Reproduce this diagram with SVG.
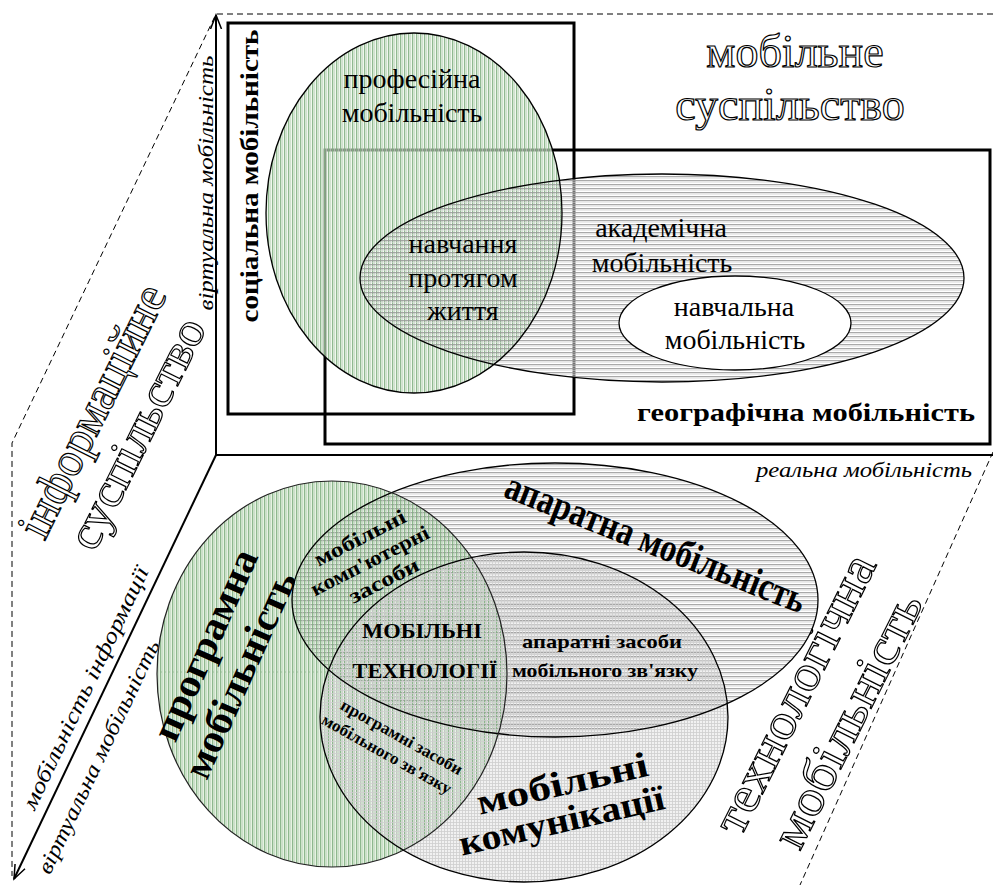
<svg xmlns="http://www.w3.org/2000/svg" width="993" height="885" viewBox="0 0 993 885" font-family="'Liberation Serif', 'Times New Roman', serif">
<defs>
<style>
text{font-family:"Liberation Serif","Times New Roman",serif;fill:#000}
.o{fill:#fff;stroke:#000;stroke-width:1.2}
.b{font-weight:bold}
.i{font-style:italic}
.m{text-anchor:middle}
.r28{font-size:28px}
.ln{fill:none;stroke:#000;stroke-width:1.3}
.ax{fill:none;stroke:#000;stroke-width:2}
.ds{fill:none;stroke:#000;stroke-width:1;stroke-dasharray:6,4}
</style>
<pattern id="pv" width="4" height="4" patternUnits="userSpaceOnUse"><rect width="1.3" height="4" fill="#7fae7f"/><rect x="2.3" width="0.7" height="4" fill="#b9d3b9"/></pattern>
<pattern id="ph" width="4" height="4" patternUnits="userSpaceOnUse"><rect width="4" height="1.3" fill="#9a9a9a"/><rect y="2.3" width="4" height="0.6" fill="#d8d8d8"/></pattern>
<pattern id="pg" width="3" height="3" patternUnits="userSpaceOnUse"><rect width="3" height="0.8" fill="#cfcfcf"/><rect width="0.8" height="3" fill="#cfcfcf"/></pattern>
<marker id="arr" markerWidth="16" markerHeight="16" refX="14" refY="8" orient="auto" markerUnits="userSpaceOnUse"><path d="M0,2.5 L14,8 L0,13.5" fill="none" stroke="#000" stroke-width="1.5"/></marker>
</defs>
<rect width="993" height="885" fill="#fff"/>

<g id="connectors">
<line class="ax" x1="216" y1="455" x2="216" y2="15" marker-end="url(#arr)"/>
<line class="ax" x1="216" y1="455" x2="993" y2="455"/>
<line class="ax" x1="216" y1="455" x2="14" y2="879" marker-end="url(#arr)"/>
<polyline class="ds" points="993,14 216,14 12,443 12,876"/>
<line class="ds" x1="993" y1="452" x2="800" y2="885"/>
</g>

<g id="upper-frames">
<rect id="social-frame" x="228" y="23" width="346" height="391" fill="none" stroke="#000" stroke-width="3"/>
<rect id="geo-frame" x="325" y="150" width="665" height="294" fill="none" stroke="#000" stroke-width="3"/>
</g>

<g id="upper-fills">
<ellipse cx="414" cy="213" rx="148" ry="180" fill="#e6f2e2" fill-opacity="0.6"/>
<ellipse cx="662" cy="278" rx="302" ry="104" fill="#fff" fill-opacity="0.45"/>
<ellipse cx="414" cy="213" rx="148" ry="180" fill="url(#pv)" opacity="0.85"/>
<ellipse cx="662" cy="278" rx="302" ry="104" fill="url(#ph)" opacity="0.85"/>
</g>

<g id="n-prof">
<ellipse class="ln" cx="414" cy="213" rx="148" ry="180"/>
<text class="m r28" x="412" y="88">професійна</text>
<text class="m r28" x="412" y="122">мобільність</text>
</g>
<g id="n-acad">
<ellipse class="ln" cx="662" cy="278" rx="302" ry="104"/>
<text class="m r28" x="661" y="237">академічна</text>
<text class="m r28" x="662" y="272">мобільність</text>
</g>
<g id="n-lifelong">
<text class="m r28" x="463" y="253">навчання</text>
<text class="m r28" x="463" y="287">протягом</text>
<text class="m r28" x="463" y="320">життя</text>
</g>
<g id="n-nav">
<ellipse cx="735" cy="323" rx="116" ry="47" fill="#fff" stroke="#000" stroke-width="1.3"/>
<text class="m r28" x="734" y="316">навчальна</text>
<text class="m r28" x="735" y="349">мобільність</text>
</g>
<g id="n-social">
<text class="b m" font-size="26" transform="translate(258,176) rotate(-90)" textLength="293" lengthAdjust="spacingAndGlyphs">соціальна мобільність</text>
</g>
<g id="n-geo">
<text class="b" font-size="26" x="637" y="421" textLength="338" lengthAdjust="spacingAndGlyphs">географічна мобільність</text>
</g>
<g id="n-mobsoc">
<text class="o m" font-size="46" x="795" y="67">мобільне</text>
<text class="o m" font-size="46" x="790" y="120">суспільство</text>
</g>
<g id="n-infosoc" transform="translate(106,418) rotate(-63.5)">
<text class="o m" font-size="48" x="0" y="0" textLength="276" lengthAdjust="spacingAndGlyphs">інформаційне</text>
<text class="o m" font-size="48" x="0" y="50" textLength="252" lengthAdjust="spacingAndGlyphs">суспільство</text>
</g>
<g id="n-techmob" transform="translate(809,701) rotate(-63.5)">
<text class="o m" font-size="50" x="0" y="0" textLength="305" lengthAdjust="spacingAndGlyphs">технологічна</text>
<text class="o m" font-size="50" x="0" y="59" textLength="278" lengthAdjust="spacingAndGlyphs">мобільність</text>
</g>

<g id="axis-labels">
<text class="i m" font-size="21" transform="translate(213,183) rotate(-90)" textLength="255" lengthAdjust="spacingAndGlyphs">віртуальна мобільність</text>
<text class="i m" font-size="22" x="864" y="477" textLength="216" lengthAdjust="spacingAndGlyphs">реальна мобільність</text>
<text class="i m" font-size="22" transform="translate(92,691) rotate(-64.5)" textLength="266" lengthAdjust="spacingAndGlyphs">мобільність інформації</text>
<text class="i m" font-size="22" transform="translate(105,760) rotate(-64.5)" textLength="256" lengthAdjust="spacingAndGlyphs">віртуальна мобільність</text>
</g>

<g id="lower-fills">
<ellipse cx="555" cy="600" rx="263" ry="137" fill="#fff"/>
<ellipse cx="332" cy="674" rx="175" ry="193" fill="#e6f2e2"/>
<ellipse cx="524" cy="717" rx="204" ry="165" fill="#ececec" fill-opacity="0.75"/>
<ellipse cx="555" cy="600" rx="263" ry="137" fill="url(#ph)" opacity="0.85"/>
<ellipse cx="332" cy="674" rx="175" ry="193" fill="url(#pv)" opacity="0.85"/>
<ellipse cx="524" cy="717" rx="204" ry="165" fill="url(#pg)"/>
<line x1="160" y1="672" x2="330" y2="672" stroke="#8fb88f" stroke-width="0.8" stroke-dasharray="2,2"/>
</g>

<g id="n-hardware">
<ellipse class="ln" cx="555" cy="600" rx="263" ry="137"/>
<text class="b m" font-size="40" transform="translate(651,555) rotate(21.5)" textLength="320" lengthAdjust="spacingAndGlyphs">апаратна мобільність</text>
</g>
<g id="n-software">
<ellipse cx="332" cy="674" rx="175" ry="193" fill="none" stroke="#222" stroke-width="1.2"/>
<g transform="translate(217,650) rotate(-66)">
<text class="b m" font-size="40" x="0" y="0" textLength="205" lengthAdjust="spacingAndGlyphs">програмна</text>
<text class="b m" font-size="40" x="-13" y="44" textLength="222" lengthAdjust="spacingAndGlyphs">мобільність</text>
</g>
</g>
<g id="n-comm">
<ellipse class="ln" cx="524" cy="717" rx="204" ry="165"/>
<g transform="translate(565,795) rotate(-13)">
<text class="b m" font-size="36" x="0" y="0" textLength="175" lengthAdjust="spacingAndGlyphs">мобільні</text>
<text class="b m" font-size="36" x="-9" y="36" textLength="210" lengthAdjust="spacingAndGlyphs">комунікації</text>
</g>
</g>
<g id="n-computers" transform="translate(363,544) rotate(-27)">
<text class="b m" font-size="21" x="0" y="0" textLength="100" lengthAdjust="spacingAndGlyphs">мобільні</text>
<text class="b m" font-size="21" x="-1.5" y="25" textLength="130" lengthAdjust="spacingAndGlyphs">комп'ютерні</text>
<text class="b m" font-size="21" x="2" y="49" textLength="76" lengthAdjust="spacingAndGlyphs">засоби</text>
</g>
<g id="n-mobtech">
<text class="b m" font-size="21" x="422" y="638" fill="#1a1a1a" textLength="120" lengthAdjust="spacingAndGlyphs">МОБІЛЬНІ</text>
<text class="b m" font-size="21" x="425" y="678" fill="#1a1a1a" textLength="145" lengthAdjust="spacingAndGlyphs">ТЕХНОЛОГІЇ</text>
</g>
<g id="n-hwcomm">
<text class="b m" font-size="19" x="602" y="648" textLength="160" lengthAdjust="spacingAndGlyphs">апаратні засоби</text>
<text class="b m" font-size="19" x="605" y="677" textLength="186" lengthAdjust="spacingAndGlyphs">мобільного зв'язку</text>
</g>
<g id="n-swcomm" transform="translate(399,742) rotate(29.3)">
<text class="b m" font-size="17" x="0" y="0" textLength="137" lengthAdjust="spacingAndGlyphs">програмні засоби</text>
<text class="b m" font-size="17" x="-4.7" y="22" textLength="146" lengthAdjust="spacingAndGlyphs">мобільного зв'язку</text>
</g>
</svg>
